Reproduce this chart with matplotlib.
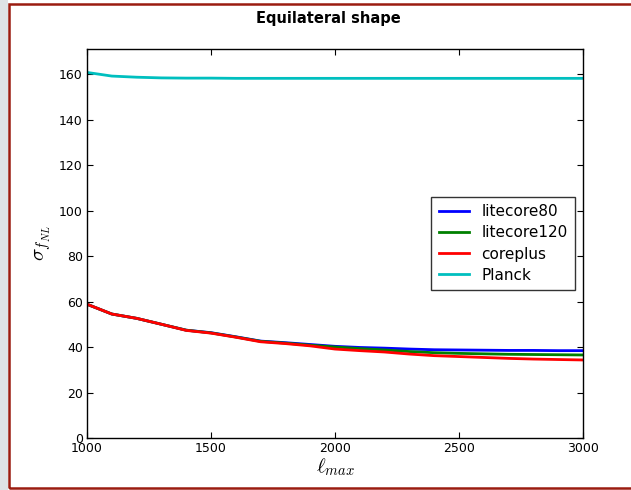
import numpy as np
import matplotlib
matplotlib.use('Agg')
from matplotlib import pyplot as plt
from matplotlib.patches import Rectangle

ell = [1000, 1100, 1200, 1300, 1400, 1500, 1600, 1700, 1800, 1900, 2000,
       2100, 2200, 2300, 2400, 2500, 2600, 2700, 2800, 2900, 3000]
litecore80 = [58.8, 54.5, 52.6, 50.0, 47.4, 46.3, 44.5, 42.6, 41.9, 41.1, 40.3,
              39.8, 39.5, 39.1, 38.8, 38.7, 38.6, 38.5, 38.5, 38.4, 38.4]
litecore120 = [58.8, 54.5, 52.6, 50.0, 47.4, 46.2, 44.4, 42.5, 41.7, 40.8, 40.0,
               39.3, 38.7, 38.0, 37.5, 37.2, 37.0, 36.8, 36.7, 36.6, 36.5]
coreplus = [58.8, 54.5, 52.6, 50.0, 47.3, 46.1, 44.3, 42.3, 41.5, 40.5, 39.1,
            38.4, 37.8, 36.9, 36.2, 35.8, 35.4, 35.0, 34.7, 34.5, 34.3]
planck = [160.7, 159.1, 158.6, 158.3, 158.2, 158.2, 158.1, 158.1, 158.1, 158.1, 158.1,
          158.1, 158.1, 158.1, 158.1, 158.1, 158.1, 158.1, 158.1, 158.1, 158.1]

plt.rcParams['mathtext.fontset'] = 'cm'

W, H = 631, 490
fig = plt.figure(figsize=(W / 100, H / 100), dpi=100)
fig.patch.set_facecolor('white')

# slide-like frame: gray strip on the left and dark red border
fig.add_artist(Rectangle((0, 0), 8 / W, 1, transform=fig.transFigure,
                         facecolor='#dfe3e6', edgecolor='none'))
fig.add_artist(Rectangle((8.5 / W, 2.5 / H), 1.2, (H - 6.5) / H, transform=fig.transFigure,
                         facecolor='none', edgecolor='#9b1c10', linewidth=1.8))

ax = fig.add_axes([87 / W, (H - 438) / H, (583 - 87) / W, (438 - 49) / H])
ax.plot(ell, litecore80, color='b', lw=2, label='litecore80')
ax.plot(ell, litecore120, color='g', lw=2, label='litecore120')
ax.plot(ell, coreplus, color='r', lw=2, label='coreplus')
ax.plot(ell, planck, color='c', lw=2, label='Planck')

ax.set_xlim(1000, 3000)
ax.set_ylim(0, 171)
ax.set_xticks(np.arange(1000, 3001, 500))
ax.set_yticks(np.arange(0, 161, 20))
ax.tick_params(direction='in', top=True, right=True, labelsize=9, length=4, pad=3)
for s in ax.spines.values():
    s.set_linewidth(1)

ax.set_xlabel(r'$\ell_{max}$', fontsize=15, labelpad=1)
ax.set_ylabel(r'$\sigma_{f_{NL}}$', fontsize=15, labelpad=4)
fig.text(328 / W, 1 - 18 / H, 'Equilateral shape', ha='center', va='center',
         fontsize=10.5, fontweight='bold')

leg = ax.legend(loc='center right', fontsize=11, frameon=True, fancybox=False,
                borderaxespad=0.5, handlelength=2.0, labelspacing=0.4,
                borderpad=0.5)
leg.get_frame().set_edgecolor('black')
leg.get_frame().set_linewidth(1)

fig.savefig('out.png', dpi=100)
